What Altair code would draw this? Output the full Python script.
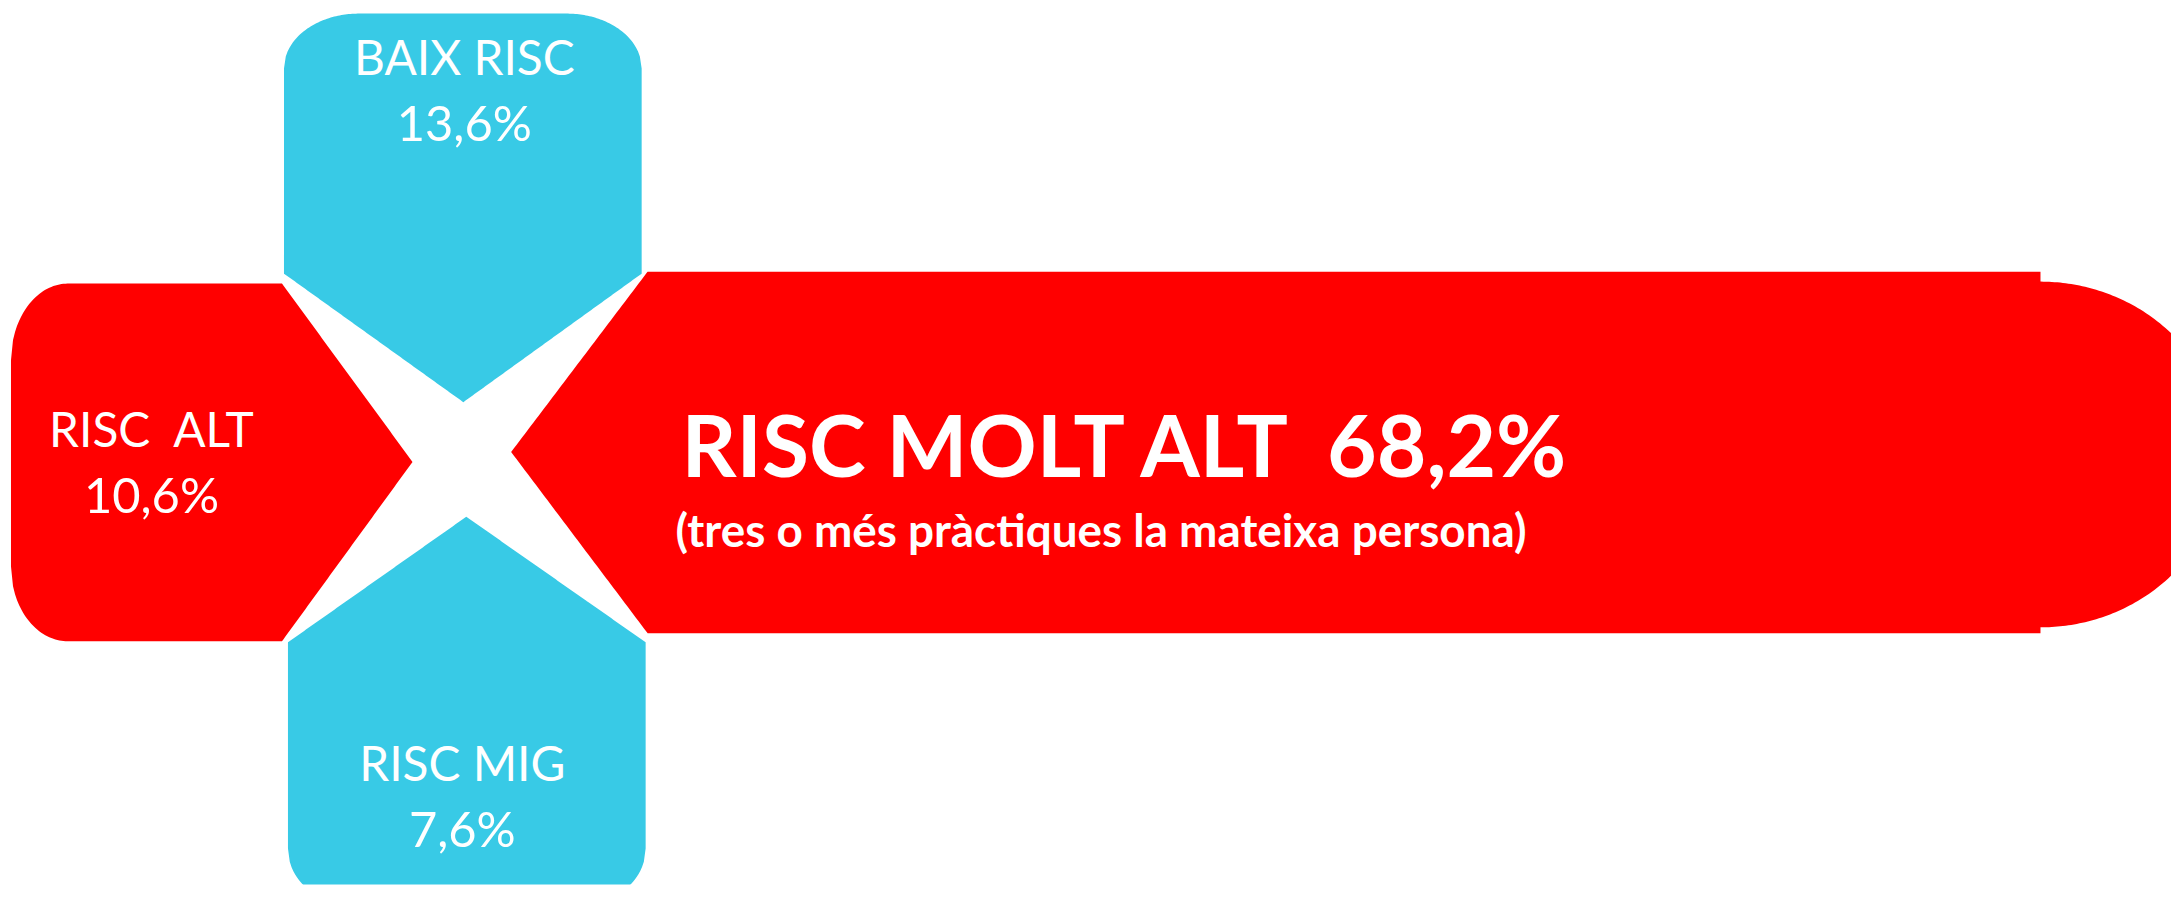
import altair as alt
import numpy as np
import pandas as pd

# ---------------- data ----------------
categories = ["BAIX RISC", "RISC  ALT", "RISC MIG", "RISC MOLT ALT"]
percentages = [13.6, 10.6, 7.6, 68.2]
keys = ["baix", "alt", "mig", "moltalt"]
note = "(tres o més pràctiques la mateixa persona)"

# ---------------- layout (page pixels) ----------------
W, H = 2171, 878
OFF = 8
RED = "#FF0000"
BLUE = "#38CAE6"
FONT = "Lato"


def xenc():
    return alt.X("x:Q", scale=alt.Scale(domain=[OFF, OFF + W], nice=False, zero=False), axis=None)


def yenc():
    return alt.Y("y:Q", scale=alt.Scale(domain=[OFF + H, OFF], nice=False, zero=False), axis=None)


def ell(d, rx, ry):
    t = np.clip(d / rx, 0, 1)
    return ry * (1 - np.sqrt(1 - t ** 2))


def pts(a, b, extra, n=200):
    return np.unique(np.round(np.concatenate([np.linspace(a, b, n), np.array(extra, float)]), 2))


def area_layer(x, top, bot, color):
    df = pd.DataFrame({"x": x, "y": np.round(top, 2), "y2": np.round(bot, 2)})
    return alt.Chart(df).mark_area(color=color, opacity=1, interpolate="linear", clip=True).encode(
        x=xenc(), y=yenc(), y2="y2:Q"
    )


layers = []

# top blue (BAIX RISC)
x = pts(285, 644, [285, 360, 465, 569, 644])
top = 12 + ell(np.maximum(360 - x, 0), 75, 55) + ell(np.maximum(x - 569, 0), 75, 55)
bot = np.where(x <= 465, 273 + 129 * (x - 285) / 180, 273 + 129 * (644 - x) / 179)
layers.append(area_layer(x, top, bot, BLUE))

# left red (RISC ALT)
x = pts(11, 414, [11, 68, 283, 414])
top = np.where(x <= 283, 283 + ell(np.maximum(68 - x, 0), 57, 77), 283 + 179 * (x - 283) / 131)
bot = np.where(x <= 283, 642 - ell(np.maximum(68 - x, 0), 57, 75), 642 - 180 * (x - 283) / 131)
layers.append(area_layer(x, top, bot, RED))

# bottom blue (RISC MIG)
x = pts(289, 648, [289, 347, 468, 589, 648])
top = np.where(x <= 468, 643 - 126 * (x - 289) / 179, 517 + 126 * (x - 468) / 180)
bot = 904 - ell(np.maximum(347 - x, 0), 58, 54) - ell(np.maximum(x - 589, 0), 59, 54)
layers.append(area_layer(x, top, bot, BLUE))

# right big red (RISC MOLT ALT)
x = pts(513, 2179, [513, 650, 2048, 2048.01, 2179], n=600)
cx, cy, rx, ry = 2048, 454.5, 184, 173.5
half = ry * np.sqrt(np.clip(1 - ((x - cx) / rx) ** 2, 0, 1))
top = np.where(x < 650, 452 - 181 * (x - 513) / 137, np.where(x <= 2048, 271, cy - half))
bot = np.where(x < 650, 452 + 182 * (x - 513) / 137, np.where(x <= 2048, 634, cy + half))
layers.append(area_layer(x, top, bot, RED))


def pct(v):
    return f"{v:.1f}".replace(".", ",") + "%"


def keep_spaces(s):
    return s.replace("  ", " \u00a0")


label_pos = {
    "baix": (466, 74, 140),
    "alt": (152, 447, 513),
    "mig": (464, 782, 848),
}
name_rows, pct_rows = [], []
for k, c, v in zip(keys, categories, percentages):
    if k in label_pos:
        lx, y1, y2 = label_pos[k]
        name_rows.append({"x": lx, "y": y1, "text": keep_spaces(c)})
        pct_rows.append({"x": lx, "y": y2, "text": pct(v)})

layers.append(alt.Chart(pd.DataFrame(name_rows)).mark_text(
    align="center", baseline="alphabetic", font=FONT, fontSize=48, color="white"
).encode(x=xenc(), y=yenc(), text="text:N"))
layers.append(alt.Chart(pd.DataFrame(pct_rows)).mark_text(
    align="center", baseline="alphabetic", font=FONT, fontSize=49, color="white"
).encode(x=xenc(), y=yenc(), text="text:N"))

i = keys.index("moltalt")
main_df = pd.DataFrame([{"x": 684, "y": 477, "text": keep_spaces(categories[i] + "  " + pct(percentages[i]))}])
note_df = pd.DataFrame([{"x": 678, "y": 547, "text": note}])

layers.append(alt.Chart(main_df).mark_text(
    align="left", baseline="alphabetic", font=FONT, fontSize=86, fontWeight="bold", color="white"
).encode(x=xenc(), y=yenc(), text="text:N"))
layers.append(alt.Chart(note_df).mark_text(
    align="left", baseline="alphabetic", font=FONT, fontSize=46, fontWeight="bold", color="white"
).encode(x=xenc(), y=yenc(), text="text:N"))

chart = alt.layer(*layers).properties(
    width=W, height=H, padding=0, autosize=alt.AutoSizeParams(type="none")
).configure_view(strokeWidth=0)

chart.save("out.html", embed_options={"renderer": "svg", "actions": False})
